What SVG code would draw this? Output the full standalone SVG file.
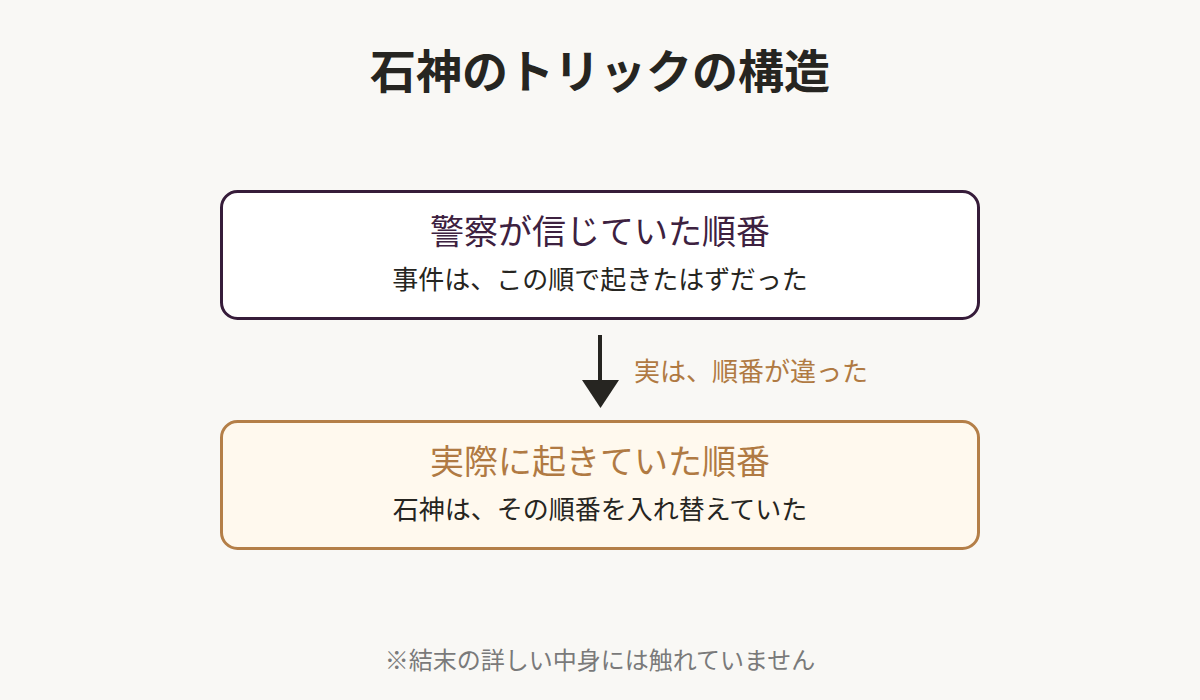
<svg xmlns="http://www.w3.org/2000/svg" width="1200" height="700" viewBox="0 0 1200 700">
<defs>
<style>
text{font-family:"Noto Sans CJK JP","Noto Sans",sans-serif;text-anchor:middle}
.title{font-size:46px;font-weight:700;fill:#262521}
.h{font-size:34px}
.s{font-size:26px;fill:#262521}
.foot{font-size:24px;fill:#7a7a7a}
</style>
</defs>
<rect width="1200" height="700" fill="#f9f8f5"/>
<text class="title" x="600" y="88">石神のトリックの構造</text>
<g id="node-believed">
<rect x="221.5" y="191.5" width="757" height="127" rx="16" fill="#ffffff" stroke="#361c3a" stroke-width="3"/>
<text class="h" x="600" y="244" fill="#3d2140">警察が信じていた順番</text>
<text class="s" x="600" y="289">事件は、この順で起きたはずだった</text>
</g>
<g id="node-actual">
<rect x="221.5" y="421.5" width="757" height="127" rx="16" fill="#fff9ee" stroke="#b47f48" stroke-width="3"/>
<text class="h" x="600" y="474" fill="#b07a43">実際に起きていた順番</text>
<text class="s" x="600" y="519">石神は、その順番を入れ替えていた</text>
</g>
<g id="connectors">
<line x1="600" y1="335" x2="600" y2="382" stroke="#262521" stroke-width="4"/>
<path d="M582,380L619,380L600.5,408Z" fill="#262521"/>
<text x="634" y="381" font-size="26" fill="#b07a43" style="text-anchor:start">実は、順番が違った</text>
</g>
<text class="foot" x="600" y="669">※結末の詳しい中身には触れていません</text>
</svg>
